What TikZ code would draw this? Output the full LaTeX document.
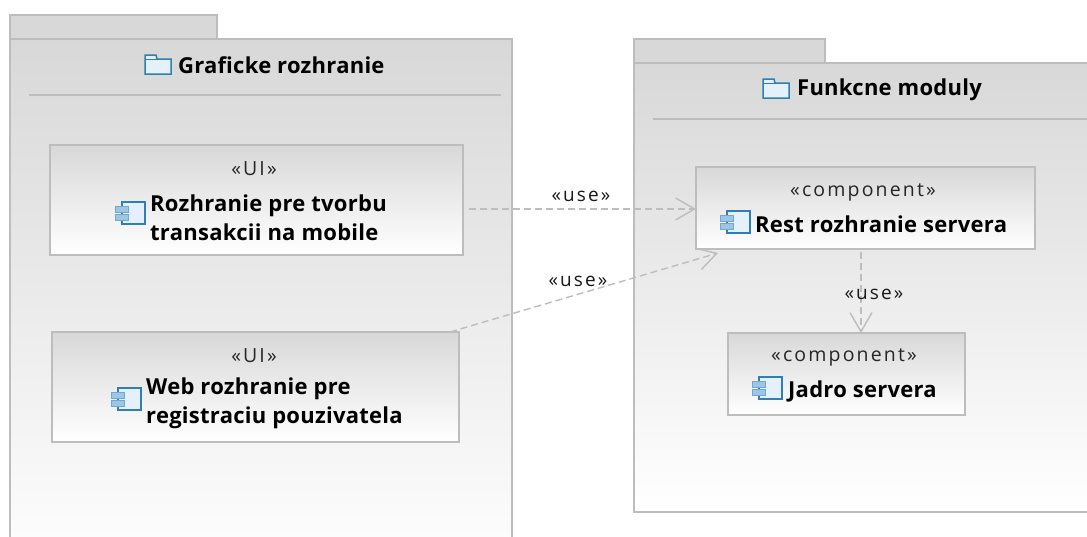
\documentclass[tikz,border=0pt]{standalone}
\usepackage{fontspec}
\setmainfont{Open Sans}
\newfontfamily\stereofont[LetterSpace=11]{Open Sans}
\newfontfamily\namefont[LetterSpace=1.2,BoldFont={Open Sans Bold}]{Open Sans}
\usetikzlibrary{arrows.meta,calc}
\definecolor{edgegray}{HTML}{BDBDBD}
\definecolor{fillgray}{HTML}{D8D8D8}
\definecolor{iconblue}{HTML}{2F7FB5}
\definecolor{iconfill}{HTML}{E4F0FA}
\definecolor{iconpale}{HTML}{6FA8D2}
\tikzset{
  x=1pt,y=-1pt,
  outline/.style={draw=edgegray,line width=1.5pt,inner sep=0pt,outer sep=0pt},
  pkgtab/.style={outline,fill=fillgray},
  pkgbody/.style={outline,top color=fillgray,bottom color=white},
  compbox/.style={outline,top color=fillgray,bottom color=white},
  sep/.style={draw=edgegray,line width=1.2pt},
  title/.style={font=\namefont\fontsize{22}{26}\selectfont\bfseries,text=black,inner sep=0pt},
  cname/.style={font=\namefont\fontsize{22}{29}\selectfont\bfseries,text=black,inner sep=0pt,align=left,anchor=west},
  stereo/.style={font=\stereofont\fontsize{19.5}{22}\selectfont,text=black!85,inner sep=0pt},
  uselabel/.style={font=\stereofont\fontsize{19}{22}\selectfont,text=black!90,inner sep=0pt},
  useedge/.style={draw=edgegray,line width=1.4pt,dash pattern=on 7pt off 4pt,-{Straight Barb[length=19pt,width=22pt,line width=1.4pt]}},
  pics/compicon/.style={code={
    \draw[draw=iconblue,line width=1.6pt,fill=iconfill] (7,0) rectangle (30,22);
    \draw[draw=iconpale,line width=1pt,fill=iconfill!40!iconpale] (0,4) rectangle (13,10);
    \draw[draw=iconpale,line width=1pt,fill=iconfill!40!iconpale] (0,12) rectangle (13,18);
  }},
  pics/foldericon/.style={code={
    \draw[draw=iconblue,line width=1.5pt,fill=iconfill] (0,0) -- (11,0) -- (12,4) -- (26,4) -- (26,19) -- (0,19) -- cycle;
    \draw[draw=iconblue,line width=1pt] (0,4) -- (12,4);
  }},
}
\begin{document}
\begin{tikzpicture}
\useasboundingbox (0,0) rectangle (1087,536);
\fill[white] (0,0) rectangle (1087,536);
\clip (0,0) rectangle (1087,536);

% left package
\node[pkgtab,minimum width=207pt,minimum height=24pt] (tabA) at (113.5,27) {};
\node[pkgbody,minimum width=502pt,minimum height=541pt] (pkgA) at (261,309.5) {};
\coordinate (sepAl) at (29,95);
\coordinate (sepAr) at (501,95);
\draw[sep] (sepAl) -- (sepAr);
\pic at (145,55) {foldericon};
\node[title,anchor=west] (titleA) at (178,65.5) {Graficke rozhranie};

% right package
\node[pkgtab,minimum width=191pt,minimum height=24pt] (tabB) at (729.5,51) {};
\node[pkgbody,minimum width=500pt,minimum height=449pt] (pkgB) at (884,287.5) {};
\coordinate (sepBl) at (653,119);
\coordinate (sepBr) at (1087,119);
\draw[sep] (sepBl) -- (sepBr);
\pic at (763,79) {foldericon};
\node[title,anchor=west] (titleB) at (797,90) {Funkcne moduly};

% components
\node[compbox,minimum width=413pt,minimum height=110pt] (ui1) at (256.5,200) {};
\node[stereo] (ui1s) at (254,169) {«UI»};
\pic at (115,202) {compicon};
\node[cname] (ui1n) at (150,217.5) {Rozhranie pre tvorbu\\transakcii na mobile};

\node[compbox,minimum width=407pt,minimum height=110pt] (ui2) at (255.5,387) {};
\node[stereo] (ui2s) at (254,356) {«UI»};
\pic at (111,388) {compicon};
\node[cname] (ui2n) at (146,403) {Web rozhranie pre\\registraciu pouzivatela};

\node[compbox,minimum width=339pt,minimum height=82pt] (rest) at (865.5,208) {};
\node[stereo] (rests) at (863,192) {«component»};
\pic at (720,211) {compicon};
\node[cname] (restn) at (755,224) {Rest rozhranie servera};

\node[compbox,minimum width=237pt,minimum height=82pt] (jadro) at (846.5,374) {};
\node[stereo] (jadros) at (844,357) {«component»};
\pic at (752,377) {compicon};
\node[cname] (jadron) at (788,391) {Jadro servera};

% connectors
\draw[useedge] ([xshift=6pt,yshift=-1pt]ui1.east |- rest.west) -- ([yshift=-1pt]rest.west);
\draw[useedge] ([xshift=-9pt]ui2.north east) -- ([xshift=22pt,yshift=-4pt]rest.south west);
\draw[useedge] ([yshift=-3pt,xshift=-4.5pt]rest.south) -- ([xshift=14.5pt]jadro.north);

% labels
\node[uselabel] (use1) at (581,196) {«use»};
\node[uselabel] (use2) at (578,281) {«use»};
\node[uselabel] (use3) at (874,294.5) {«use»};
\end{tikzpicture}
\end{document}
